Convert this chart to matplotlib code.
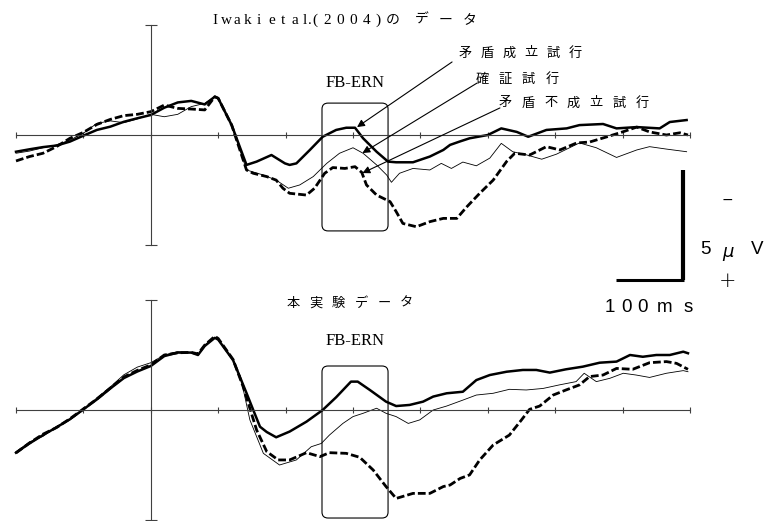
import matplotlib
matplotlib.use('Agg')
import matplotlib.pyplot as plt
from matplotlib.patches import FancyBboxPatch
import numpy as np

W, H = 778, 521
JP = ['Noto Sans CJK JP', 'DejaVu Sans']
AX = '#404040'

# ---- Iwaki et al. (2004): time [ms], amplitude [uV] (negative up) ----
top_solid_t = [-200, -180, -160, -140, -120, -100, -80, -60, -40, -20, 0, 20, 40, 60, 80, 95, 100,
               110, 120, 142, 157, 179, 199, 206, 216, 236, 255, 275, 290, 303, 315, 335, 352, 364,
               389, 414, 434, 444, 458, 473, 500, 520, 543, 560, 587, 617, 636, 671, 691, 721, 755,
               770, 795]
top_solid_v = [0.76, 0.65, 0.55, 0.48, 0.30, 0.03, -0.23, -0.38, -0.60, -0.76, -0.91, -1.24, -1.48,
               -1.55, -1.39, -1.74, -1.67, -1.06, -0.45, 1.36, 1.21, 0.91, 1.29, 1.36, 1.29, 0.68,
               0.08, -0.23, -0.33, -0.33, 0.15, 0.76, 1.21, 1.24, 1.24, 0.98, 0.68, 0.45, 0.30, 0.15,
               0.0, -0.30, -0.14, 0.08, -0.23, -0.30, -0.45, -0.50, -0.30, -0.36, -0.30, -0.59, -0.68]

top_thin_t = [-200, -180, -160, -140, -120, -100, -80, -60, -40, -20, 0, 20, 40, 60, 80, 95, 100,
              110, 120, 142, 167, 186, 204, 221, 241, 261, 280, 300, 315, 335, 350, 357, 369, 389,
              414, 431, 446, 463, 483, 503, 520, 537, 557, 580, 602, 636, 661, 691, 721, 740, 765,
              795]
top_thin_v = [0.83, 0.73, 0.58, 0.45, 0.23, -0.08, -0.53, -0.64, -0.56, -0.73, -0.94, -0.83, -0.94,
              -1.29, -1.44, -1.74, -1.67, -1.06, -0.45, 1.59, 1.82, 2.05, 2.42, 2.27, 1.89, 1.29,
              0.83, 0.58, 0.83, 1.36, 1.82, 2.15, 1.74, 1.52, 1.59, 1.29, 1.52, 1.23, 1.40, 1.05,
              0.38, 0.76, 0.90, 1.10, 0.87, 0.36, 0.58, 1.02, 0.68, 0.53, 0.64, 0.76]

top_dash_t = [-200, -180, -160, -140, -120, -100, -80, -60, -40, -20, 0, 20, 40, 60, 80, 95, 100,
              110, 120, 142, 152, 172, 186, 196, 206, 231, 243, 258, 270, 288, 303, 313, 320, 335,
              355, 364, 374, 394, 414, 434, 454, 469, 488, 508, 528, 540, 562, 587, 607, 632, 651,
              677, 700, 721, 740, 765, 785, 797]
top_dash_v = [1.18, 0.98, 0.83, 0.53, 0.15, -0.12, -0.48, -0.71, -0.88, -0.94, -1.06, -1.36, -1.21,
              -1.18, -1.14, -1.74, -1.67, -1.06, -0.45, 1.59, 1.74, 1.89, 2.05, 2.42, 2.65, 2.73,
              2.42, 1.74, 1.48, 1.52, 1.44, 1.70, 2.27, 2.73, 3.03, 3.48, 4.02, 4.17, 3.94, 3.79,
              3.79, 3.26, 2.65, 2.05, 1.20, 0.83, 0.91, 0.53, 0.68, 0.36, 0.32, 0.08, -0.14, -0.36,
              -0.14, 0.0, -0.10, 0.0]

# ---- this experiment ----
bot_solid_t = [-200, -180, -160, -140, -120, -100, -80, -60, -40, -20, 0, 20, 40, 60, 70, 80, 95,
               100, 122, 142, 152, 162, 172, 186, 206, 231, 255, 275, 297, 307, 325, 349, 364, 384,
               404, 419, 439, 463, 483, 503, 528, 552, 572, 592, 616, 641, 666, 691, 711, 730, 750,
               770, 790, 797]
bot_solid_v = [1.94, 1.52, 1.14, 0.79, 0.42, -0.03, -0.48, -0.98, -1.45, -1.75, -2.00, -2.45,
               -2.61, -2.61, -2.50, -2.91, -3.28, -3.20, -2.27, -0.77, 0.0, 0.76, 1.00, 1.24, 0.98,
               0.53, 0.0, -0.58, -1.29, -1.29, -0.91, -0.38, -0.18, -0.23, -0.38, -0.61, -0.76,
               -0.83, -1.36, -1.59, -1.74, -1.82, -1.82, -1.70, -1.85, -1.97, -2.15, -2.20, -2.50,
               -2.42, -2.50, -2.50, -2.65, -2.58]

bot_thin_t = [-200, -180, -160, -140, -120, -100, -80, -60, -40, -20, 0, 20, 40, 60, 70, 80, 95,
              100, 122, 133, 147, 167, 191, 216, 238, 253, 265, 285, 300, 315, 335, 349, 364, 382,
              399, 419, 439, 463, 483, 508, 532, 557, 582, 606, 631, 643, 661, 681, 701, 720, 740,
              765, 790, 797]
bot_thin_v = [1.90, 1.45, 1.20, 0.75, 0.45, 0.0, -0.55, -1.05, -1.60, -1.95, -2.15, -2.50, -2.65,
              -2.60, -2.50, -2.95, -3.30, -3.20, -2.27, -1.52, 0.45, 1.97, 2.50, 2.27, 1.67, 1.52,
              1.14, 0.61, 0.30, 0.15, -0.08, 0.15, 0.30, 0.61, 0.45, 0.0, -0.18, -0.45, -0.68,
              -0.76, -0.94, -0.91, -0.98, -1.14, -1.29, -1.67, -1.29, -1.44, -1.67, -1.59, -1.48,
              -1.67, -1.79, -1.74]

bot_dash_t = [-200, -180, -160, -140, -120, -100, -80, -60, -40, -20, 0, 20, 40, 60, 70, 80, 95,
              100, 122, 137, 157, 172, 189, 206, 231, 251, 265, 290, 310, 330, 349, 364, 389, 414,
              434, 444, 459, 473, 488, 508, 532, 550, 562, 577, 597, 616, 636, 651, 671, 691, 715,
              740, 765, 780, 797]
bot_dash_v = [1.95, 1.50, 1.10, 0.80, 0.40, -0.05, -0.50, -1.00, -1.50, -1.80, -2.05, -2.50,
              -2.60, -2.62, -2.55, -2.95, -3.35, -3.25, -2.30, -1.06, 0.91, 1.89, 2.27, 2.27, 1.94,
              2.12, 1.94, 1.97, 2.15, 2.73, 3.48, 4.02, 3.79, 3.79, 3.48, 3.41, 3.11, 2.95, 2.27,
              1.59, 1.14, 0.45, -0.03, -0.18, -0.68, -0.91, -1.14, -1.52, -1.59, -1.89, -1.85,
              -2.15, -2.20, -2.12, -1.85]

fig = plt.figure(figsize=(W / 100, H / 100), dpi=100)


def fx(x):
    return x / W


def fy(y):
    return 1 - y / H


def spaced(x0, y, s, pitch, **kw):
    for i, ch in enumerate(s):
        fig.text(fx(x0 + i * pitch), fy(y), ch, ha='center', va='center', **kw)


def setup(ax):
    ax.set_xlim(-200, 800)
    ax.set_ylim(5, -5)
    ax.patch.set_alpha(0)
    for s in ['top', 'right']:
        ax.spines[s].set_visible(False)
    for s in ['left', 'bottom']:
        ax.spines[s].set_position(('data', 0))
        ax.spines[s].set_color(AX)
        ax.spines[s].set_linewidth(0.8)
    ax.set_xticks(np.arange(-200, 801, 100))
    ax.set_yticks([-5, 5])
    ax.tick_params(axis='x', direction='inout', length=5, width=0.8, color=AX,
                   labelbottom=False)
    ax.tick_params(axis='y', direction='inout', length=9, width=0.8, color=AX,
                   labelleft=False)


def erp(ax, ts, vs, td, vd, tt, vt):
    ax.plot(tt, vt, color='black', lw=0.6, clip_on=False)
    ax.plot(td, vd, color='black', lw=2.0, ls=(0, (2.8, 1.1)), clip_on=False)
    ax.plot(ts, vs, color='black', lw=1.8, clip_on=False)


def fb_box(ax, y0, y1):
    box = FancyBboxPatch((254, y0), 98, y1 - y0, boxstyle='round,pad=0,rounding_size=9',
                         mutation_aspect=0.03, fill=False, lw=0.8, ec='black', clip_on=False)
    ax.add_patch(box)


ax1 = fig.add_axes([fx(16), fy(245), 674 / W, 220 / H])
ax2 = fig.add_axes([fx(16), fy(520), 674 / W, 220 / H])
for ax in (ax1, ax2):
    setup(ax)

erp(ax1, top_solid_t, top_solid_v, top_dash_t, top_dash_v, top_thin_t, top_thin_v)
erp(ax2, bot_solid_t, bot_solid_v, bot_dash_t, bot_dash_v, bot_thin_t, bot_thin_v)
fb_box(ax1, -1.45, 4.36)
fb_box(ax2, -2.0, 4.91)

# arrows to the three waveforms
arrow = dict(arrowstyle='-|>', lw=0.8, color='black', mutation_scale=11, shrinkA=0, shrinkB=0)
ax1.annotate('', xy=(306, -0.36), xytext=(447, -3.32), arrowprops=arrow, annotation_clip=False)
ax1.annotate('', xy=(314, 0.82), xytext=(484, -2.36), arrowprops=arrow, annotation_clip=False)
ax1.annotate('', xy=(314, 1.73), xytext=(518, -1.23), arrowprops=arrow, annotation_clip=False)

# scale bar 5 uV x 100 ms
ax1.plot([790, 790], [1.6, 6.6], color='black', lw=3, solid_capstyle='butt', clip_on=False)
ax1.plot([690, 791], [6.6, 6.6], color='black', lw=2.2, solid_capstyle='butt', clip_on=False)

# texts
serif = dict(family='Liberation Serif', fontsize=11)
spaced(215, 20, 'Iwaki', 11, **serif)
spaced(272, 20, 'et', 11, **serif)
spaced(295, 20, 'al', 10, **serif)
spaced(310, 20, '.(', 5, **serif)
spaced(327, 20, '2004', 13.3, **serif)
spaced(378, 20, ')', 0, **serif)
spaced(393, 20, 'の', 0, family=JP, fontsize=10)
spaced(422, 20, 'データ', 24, family=JP, fontsize=10)

fig.text(fx(355), fy(83), 'FB-ERN', ha='center', va='center', family='Liberation Serif',
         fontsize=12)
fig.text(fx(355), fy(341), 'FB-ERN', ha='center', va='center', family='Liberation Serif',
         fontsize=12)

spaced(465, 53, '矛盾成立試行', 22, family=JP, fontsize=9.5)
spaced(482, 79, '確証試行', 23.3, family=JP, fontsize=9.5)
spaced(505, 103, '矛盾不成立試行', 22.8, family=JP, fontsize=9.5)
spaced(293, 303, '本実験データ', 22.7, family=JP, fontsize=9.5)

sans = dict(family='Liberation Sans', fontsize=13.5)
fig.text(fx(727), fy(200), '−', ha='center', va='center', family='DejaVu Sans', fontsize=10)
fig.text(fx(705), fy(250), '5', ha='center', va='center', **sans)
fig.text(fx(728), fy(252), 'µ', ha='center', va='center', family='DejaVu Sans',
         style='italic', fontsize=13)
fig.text(fx(757), fy(250), 'V', ha='center', va='center', **sans)
fig.text(fx(728), fy(281), '+', ha='center', va='center', family='DejaVu Sans', fontsize=15,
         fontweight='light')
spaced(610, 307, '100', 16.5, **sans)
spaced(665, 307, 'ms', 23, **sans)

fig.savefig('out.png', dpi=100)
